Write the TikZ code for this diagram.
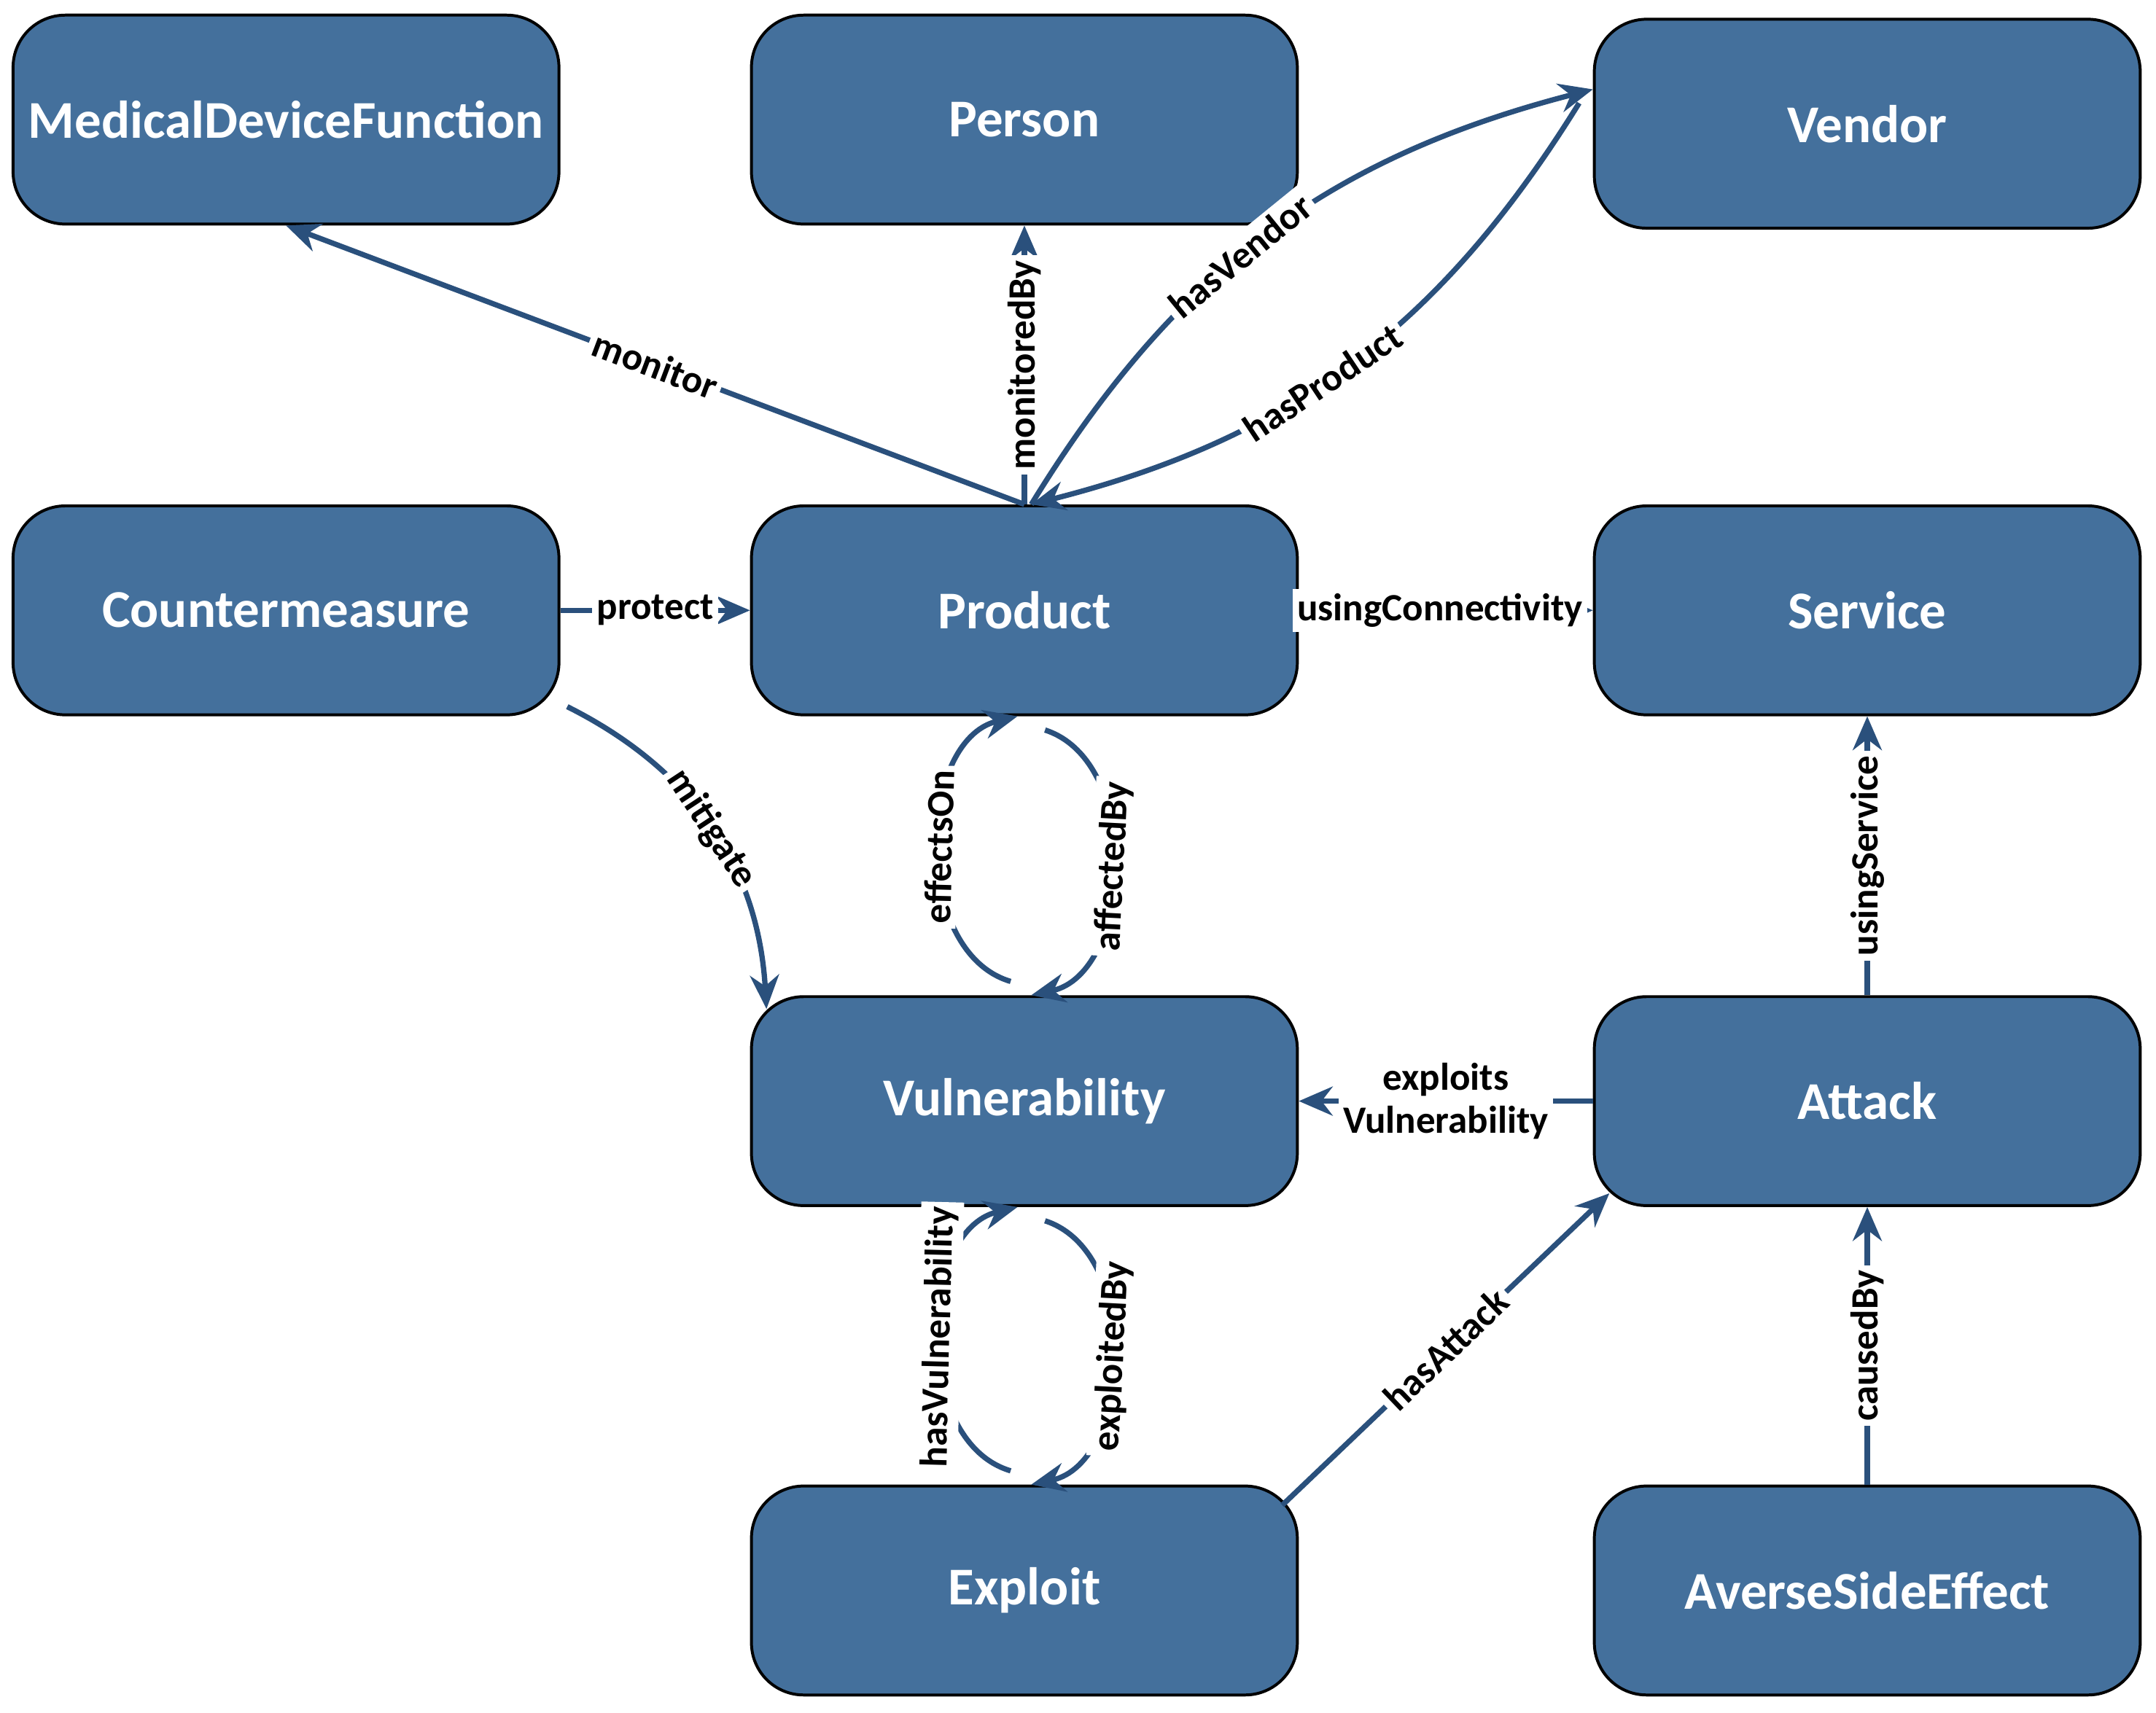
\documentclass[tikz,border=0pt]{standalone}
\usepackage{fontspec}
\setmainfont{Carlito}
\usetikzlibrary{arrows.meta}
\definecolor{boxblue}{RGB}{68,112,156}
\definecolor{edgeblue}{RGB}{42,80,124}
\begin{document}
\begin{tikzpicture}[
    cls/.style={draw=black,fill=boxblue,rounded corners=0.38cm,minimum width=3.97cm,minimum height=1.52cm,
      text=white,font=\fontsize{11}{13}\selectfont\bfseries,line width=0.6pt,inner xsep=2pt},
    rel/.style={draw=edgeblue,line width=1.1pt,-{Stealth[length=7pt,width=6pt]}},
    lbl/.style={fill=white,inner sep=1pt,font=\fontsize{8}{9}\selectfont\bfseries,text=black}]
  \useasboundingbox (0,0) rectangle (15.68,12.46);
  % classes
  \node[cls] (mdf) at (2.08,11.59) {MedicalDeviceFunction};
  \node[cls] (per) at (7.45,11.59) {Person};
  \node[cls] (ven) at (13.58,11.56) {Vendor};
  \node[cls] (cm) at (2.08,8.02) {Countermeasure};
  \node[cls] (prod) at (7.45,8.02) {Product};
  \node[cls] (srv) at (13.58,8.02) {Service};
  \node[cls] (vul) at (7.45,4.45) {Vulnerability};
  \node[cls] (att) at (13.58,4.45) {Attack};
  \node[cls] (exp) at (7.45,0.89) {Exploit};
  \node[cls] (ase) at (13.58,0.89) {AverseSideEffect};
  % relations
  \draw[rel] (prod.north) -- node[lbl,sloped] {monitor} (mdf.south);
  \draw[rel] (prod.north) -- node[lbl,sloped] {monitoredBy} (per.south);
  \draw[rel] ([xshift=0.05cm]prod.north) to[bend left=22] node[lbl,sloped,pos=0.45] {hasVendor} ([yshift=0.25cm]ven.west);
  \draw[rel] ([xshift=-0.1cm,yshift=0.15cm]ven.west) to[bend left=22] node[lbl,sloped,pos=0.55] {hasProduct} ([xshift=0.05cm]prod.north);
  \draw[rel] (cm.east) -- node[lbl] {protect} (prod.west);
  \draw[rel] (prod.east) -- node[lbl,pos=0.48] {usingConnectivity} (srv.west);
  \draw[rel] ([xshift=0.05cm,yshift=0.07cm]cm.south east) to[bend left=30] node[lbl,sloped] {mitigate} ([xshift=0.12cm,yshift=-0.1cm]vul.north west);
  \draw[rel] ([xshift=-0.1cm,yshift=0.1cm]vul.north) to[bend left=75] node[lbl,sloped] {effectsOn} ([xshift=-0.05cm]prod.south);
  \draw[rel] ([xshift=0.15cm,yshift=-0.1cm]prod.south) to[bend left=75] node[lbl,sloped] {affectedBy} ([xshift=0.05cm]vul.north);
  \draw[rel] (att.west) -- node[lbl,align=center] {exploits\\Vulnerability} (vul.east);
  \draw[rel] (att.north) -- node[lbl,sloped] {usingService} (srv.south);
  \draw[rel] ([xshift=-0.1cm,yshift=0.1cm]exp.north) to[bend left=75] node[lbl,sloped] {hasVulnerability} ([xshift=-0.05cm]vul.south);
  \draw[rel] ([xshift=0.15cm,yshift=-0.1cm]vul.south) to[bend left=75] node[lbl,sloped] {exploitedBy} ([xshift=0.05cm]exp.north);
  \draw[rel] ([xshift=-0.12cm,yshift=-0.15cm]exp.north east) -- node[lbl,sloped] {hasAttack} ([xshift=0.12cm,yshift=0.1cm]att.south west);
  \draw[rel] (ase.north) -- node[lbl,sloped] {causedBy} (att.south);
\end{tikzpicture}
\end{document}
